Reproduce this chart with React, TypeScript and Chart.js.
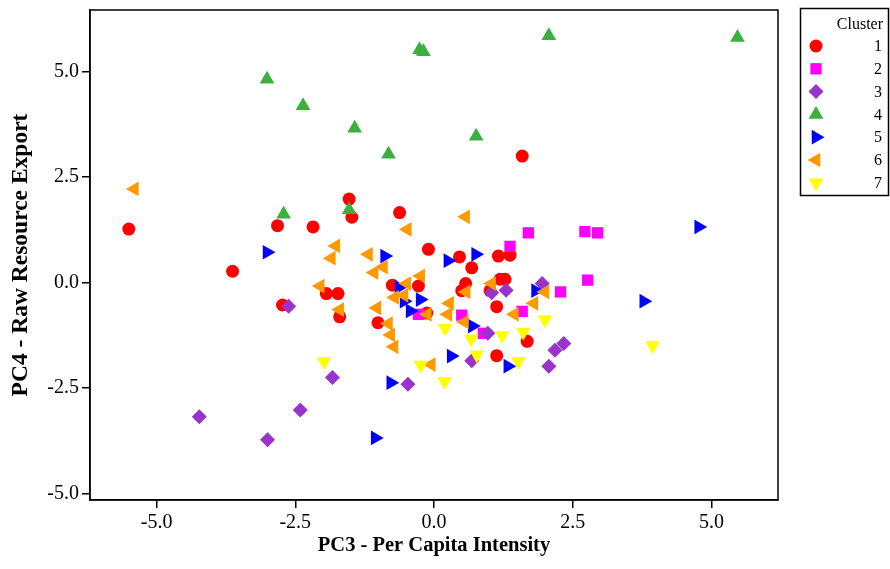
import React, { useEffect, useRef } from 'react';
import { Chart, registerables } from 'chart.js';
import { drawPoint } from 'chart.js/helpers';

Chart.register(...registerables);

const FONT = '"Liberation Serif", "Times New Roman", serif';

const clusterLabels = ['1', '2', '3', '4', '5', '6', '7'];
const clusterColors = ['#ff0000', '#ff00ff', '#9933cc', '#3cb03c', '#0000ff', '#ff9900', '#ffff00'];
const clusterStyles = ['circle', 'rect', 'rectRot', 'triangle', 'triangle', 'triangle', 'triangle'];
const clusterRotations = [0, 0, 0, 0, 90, -90, 180];
const clusterRadii = [6.5, 8, 7.5, 8.5, 8.5, 8.5, 8.5];

const xTicks = [-5, -2.5, 0, 2.5, 5];
const yTicks = [-5, -2.5, 0, 2.5, 5];

const c1x = [-5.50, -3.63, -2.82, -2.18, -1.53, -1.48, -0.62, -0.10, 1.59, 1.37, 1.16, 0.46, 0.68, 0.57, 0.50, 1.19, 1.28, 1.01, 1.13, 1.68, 1.13, -1.94, -1.73, -2.73, -1.70, -0.75, -0.28, -0.13, -1.01];
const c1y = [1.27, 0.27, 1.35, 1.32, 1.98, 1.55, 1.66, 0.79, 3.00, 0.65, 0.63, 0.61, 0.35, -0.02, -0.19, 0.08, 0.08, -0.19, -0.57, -1.39, -1.73, -0.26, -0.26, -0.53, -0.81, -0.06, -0.08, -0.72, -0.95];

const c2x = [1.70, 2.72, 2.95, 1.37, 2.28, 2.77, 1.59, 0.50, 0.89, -0.28];
const c2y = [1.18, 1.21, 1.18, 0.86, -0.22, 0.06, -0.68, -0.77, -1.20, -0.75];

const c3x = [1.04, 1.30, 1.95, 0.97, 2.18, 2.34, 0.68, 2.07, -2.62, -1.83, -0.47, -4.23, -2.41, -3.00];
const c3y = [-0.24, -0.18, -0.02, -1.20, -1.60, -1.44, -1.85, -1.98, -0.56, -2.25, -2.41, -3.18, -3.02, -3.72];

const c4x = [-0.26, -0.19, -3.01, -2.36, -1.43, -0.82, 2.07, 5.47, 0.76, -2.71, -1.53];
const c4y = [5.52, 5.47, 4.82, 4.19, 3.66, 3.04, 5.85, 5.81, 3.47, 1.62, 1.73];

const c5x = [-3.01, -0.89, 4.77, 0.75, 0.25, 1.83, 3.78, 0.69, 0.31, 1.33, -0.63, -0.54, -0.25, -0.43, -0.78, -1.06];
const c5y = [0.72, 0.63, 1.32, 0.67, 0.52, -0.19, -0.44, -1.03, -1.74, -1.98, -0.11, -0.44, -0.40, -0.67, -2.37, -3.68];

const c6x = [-5.40, -0.48, -1.77, -1.85, -1.18, 0.57, 0.58, 1.04, 2.00, 1.80, 1.45, 0.28, 0.25, 0.55, -1.08, -0.91, -2.05, -1.70, -0.49, -0.24, -0.71, -0.54, -0.12, -1.03, -0.82, -0.78, -0.72, -0.05];
const c6y = [2.22, 1.26, 0.87, 0.58, 0.67, 1.56, -0.22, -0.02, -0.22, -0.49, -0.75, -0.49, -0.75, -0.93, 0.24, 0.37, -0.08, -0.64, -0.02, 0.16, -0.35, -0.30, -0.75, -0.60, -0.97, -1.24, -1.52, -1.94];

const c7x = [0.20, 0.67, 1.23, 1.61, 2.00, 3.94, 0.77, 1.52, 0.19, -1.98, -0.24];
const c7y = [-1.08, -1.33, -1.25, -1.17, -0.88, -1.49, -1.71, -1.87, -2.34, -1.87, -1.95];

const clusterX = [c1x, c2x, c3x, c4x, c5x, c6x, c7x];
const clusterY = [c1y, c2y, c3y, c4y, c5y, c6y, c7y];

const xTitle = 'PC3 - Per Capita Intensity';
const yTitle = 'PC4 - Raw Resource Export';
const legendTitle = 'Cluster';

const framePlugin = {
  id: 'frameAndLegend',
  afterDraw(chart: any) {
    const ctx = chart.ctx as CanvasRenderingContext2D;
    const a = chart.chartArea;
    ctx.save();
    ctx.strokeStyle = '#000';
    ctx.lineWidth = 1.5;
    ctx.strokeRect(a.left, a.top, a.right - a.left, a.bottom - a.top);

    // legend box
    ctx.lineWidth = 1.5;
    ctx.strokeRect(800.5, 8.5, 88, 187);
    ctx.fillStyle = '#000';
    ctx.font = `16px ${FONT}`;
    ctx.textAlign = 'right';
    ctx.textBaseline = 'alphabetic';
    ctx.fillText(legendTitle, 883, 29);
    ctx.textBaseline = 'middle';
    clusterLabels.forEach((lab, i) => {
      const y = 46 + i * 22.8;
      ctx.fillStyle = clusterColors[i];
      drawPoint(ctx, {
        pointStyle: clusterStyles[i],
        radius: clusterRadii[i],
        rotation: clusterRotations[i],
        borderWidth: 0,
      } as any, 816, y);
      ctx.fillStyle = '#000';
      ctx.fillText(lab, 882, y + 1);
    });
    ctx.restore();
  },
};

export default function App() {
  const ref = useRef<HTMLCanvasElement | null>(null);

  useEffect(() => {
    document.body.style.margin = '0';
    const canvas = ref.current;
    if (!canvas) return;
    const datasets = clusterLabels.map((lab, i) => ({
      label: lab,
      data: clusterX[i].map((x, j) => ({ x, y: clusterY[i][j] })),
      backgroundColor: clusterColors[i],
      borderColor: clusterColors[i],
      borderWidth: 0,
      pointStyle: clusterStyles[i],
      rotation: clusterRotations[i],
      pointRadius: clusterRadii[i],
      pointHoverRadius: clusterRadii[i],
      order: 7 - i,
    }));

    const tickFont = { family: FONT, size: 20 };
    const chart = new Chart(canvas, {
      type: 'scatter',
      data: { datasets: datasets as any },
      plugins: [framePlugin],
      options: {
        animation: false,
        responsive: false,
        maintainAspectRatio: false,
        layout: { padding: { top: 10, right: 112, left: 0, bottom: 0 } },
        plugins: {
          legend: { display: false },
          tooltip: { enabled: false },
        },
        scales: {
          x: {
            type: 'linear',
            min: -6.2,
            max: 6.2,
            afterBuildTicks: (s: any) => {
              s.ticks = xTicks.map((v) => ({ value: v }));
            },
            afterFit: (s: any) => {
              s.height = 69;
              s.paddingLeft = 0;
              s.paddingRight = 0;
            },
            ticks: {
              font: tickFont,
              color: '#000',
              padding: 3,
              maxRotation: 0,
              autoSkip: false,
              callback: (v: any) => Number(v).toFixed(1),
            },
            grid: {
              drawOnChartArea: false,
              drawTicks: true,
              tickLength: 8,
              color: '#000',
              lineWidth: 1.5,
            },
            border: { display: true, color: '#000', width: 1.5 },
            title: {
              display: true,
              text: xTitle,
              color: '#000',
              font: { family: FONT, size: 20.5, weight: 'bold' },
              padding: { top: 0, bottom: 11 },
            },
          },
          y: {
            type: 'linear',
            min: -5.15,
            max: 6.46,
            afterBuildTicks: (s: any) => {
              s.ticks = yTicks.map((v) => ({ value: v }));
            },
            afterFit: (s: any) => {
              s.width = 90;
              s.paddingTop = 0;
              s.paddingBottom = 0;
            },
            ticks: {
              font: tickFont,
              color: '#000',
              padding: 3,
              autoSkip: false,
              callback: (v: any) => Number(v).toFixed(1),
            },
            grid: {
              drawOnChartArea: false,
              drawTicks: true,
              tickLength: 8,
              color: '#000',
              lineWidth: 1.5,
            },
            border: { display: true, color: '#000', width: 1.5 },
            title: {
              display: true,
              text: yTitle,
              color: '#000',
              font: { family: FONT, size: 23.5, weight: 'bold' },
              padding: { top: 7, bottom: 0 },
            },
          },
        },
      },
    });
    return () => chart.destroy();
  }, []);

  return (
    <div style={{ width: 890, height: 569, background: '#fff' }}>
      <canvas ref={ref} width={890} height={569} style={{ display: 'block' }} />
    </div>
  );
}
